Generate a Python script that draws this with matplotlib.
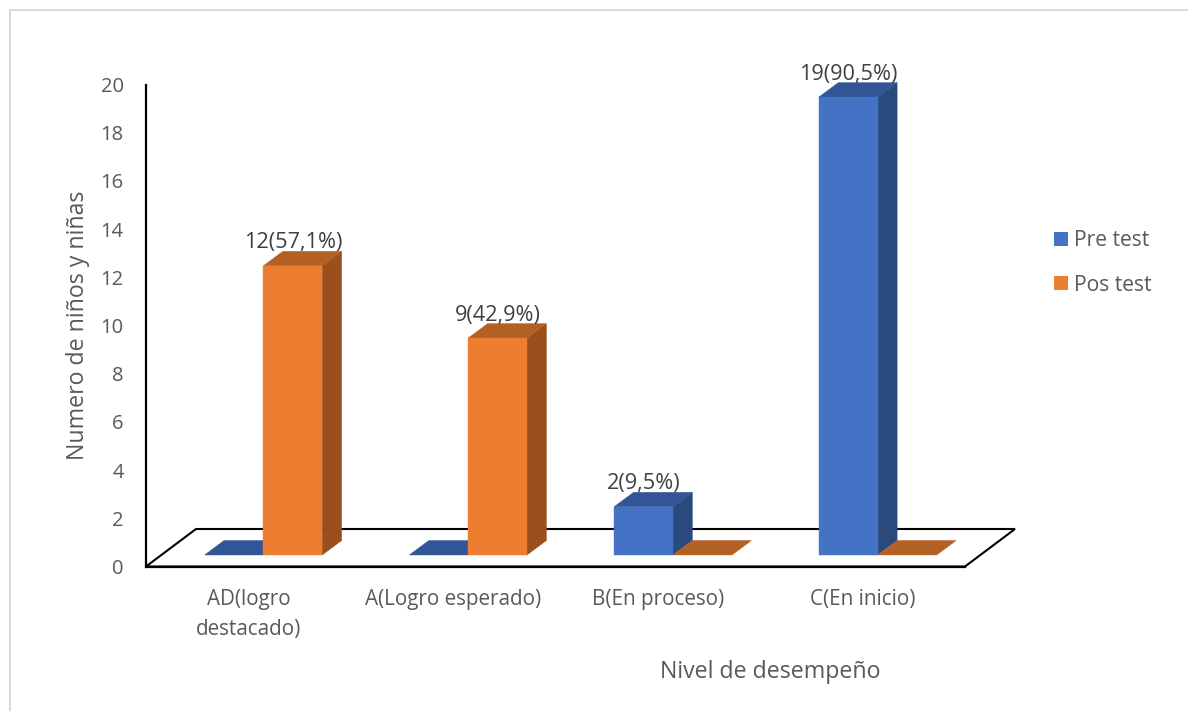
import matplotlib
matplotlib.use("Agg")
import matplotlib.pyplot as plt
from matplotlib.patches import Polygon, Patch
from matplotlib.lines import Line2D

categories = ["AD(logro\ndestacado)", "A(Logro esperado)", "B(En proceso)", "C(En inicio)"]
pre_test = [0, 0, 2, 19]
pos_test = [12, 9, 0, 0]
pre_labels = ["", "", "2(9,5%)", "19(90,5%)"]
pos_labels = ["12(57,1%)", "9(42,9%)", "", ""]
y_ticks = [0, 2, 4, 6, 8, 10, 12, 14, 16, 18, 20]

W, H = 1188, 711
plt.rcParams['font.family'] = ['Open Sans', 'DejaVu Sans']
fig = plt.figure(figsize=(W / 100, H / 100), dpi=100)
L, R, T, B = 146, 965, 84.5, 566.5
ax = fig.add_axes([L / W, (H - B) / H, (R - L) / W, (B - T) / H])
ax.set_xlim(0, len(categories))
ax.set_ylim(0, 20)
ax.patch.set_alpha(0)

ux = (R - L) / len(categories)   # pixels per x unit
uy = (B - T) / 20                # pixels per y unit

def off(x, y, dx, dy):
    """data point moved by a screen offset (pixels, up positive)"""
    return (x + dx / ux, y + dy / uy)

FLOOR_DX, FLOOR_DY = 50, 37.5
BAR_OX, BAR_OY = 15, 11.5
DEPTH_X, DEPTH_Y = 19.5, 14.5
BAR_W = 58.8 / ux

line = '#000000'
floor = Polygon([(0, 0), (4, 0), off(4, 0, FLOOR_DX, FLOOR_DY), off(0, 0, FLOOR_DX, FLOOR_DY)],
                closed=True, fc='white', ec=line, lw=1.5, clip_on=False, zorder=1, joinstyle='miter')
ax.add_patch(floor)

def bar3d(x0, v, front, top, side, z):
    x1 = x0 + BAR_W
    p = lambda x, y, d=0: off(x, y, BAR_OX + d * DEPTH_X, BAR_OY + d * DEPTH_Y)
    ax.add_patch(Polygon([p(x1, 0), p(x1, 0, 1), p(x1, v, 1), p(x1, v)], fc=side, ec=side, lw=0.3, clip_on=False, zorder=z))
    ax.add_patch(Polygon([p(x0, v), p(x1, v), p(x1, v, 1), p(x0, v, 1)], fc=top, ec=top, lw=0.3, clip_on=False, zorder=z))
    if v > 0:
        ax.add_patch(Polygon([p(x0, 0), p(x1, 0), p(x1, v), p(x0, v)], fc=front, ec=front, lw=0.3, clip_on=False, zorder=z + 0.1))

BLUE, BLUE_T, BLUE_S = '#4472C4', '#325597', '#2A4A7E'
ORANGE, ORANGE_T, ORANGE_S = '#ED7D31', '#B45F24', '#99501D'

for i in range(len(categories)):
    c = i + 0.5
    bar3d(c - BAR_W, pre_test[i], BLUE, BLUE_T, BLUE_S, 2 + i)
    bar3d(c, pos_test[i], ORANGE, ORANGE_T, ORANGE_S, 2.3 + i)
    for lab, v, xc in ((pre_labels[i], pre_test[i], c - BAR_W / 2), (pos_labels[i], pos_test[i], c + BAR_W / 2)):
        if lab:
            ax.annotate(lab, off(xc, v, BAR_OX, BAR_OY), xytext=(0, 23 * 72 / 100), textcoords='offset points',
                        ha='center', va='center', fontsize=15.6, color='#404040', zorder=20, annotation_clip=False)

ax.set_xticks([i + 0.5 for i in range(len(categories))])
ax.set_xticklabels(categories, fontsize=14.9, color='#595959', linespacing=1.55)
ax.set_yticks(y_ticks)
ax.set_yticklabels([str(v) for v in y_ticks], fontsize=14.5, color='#595959')
ax.tick_params(axis='x', length=0, pad=16)
ax.tick_params(axis='y', length=0, pad=16)

for s in ('top', 'right'):
    ax.spines[s].set_visible(False)
for s in ('left', 'bottom'):
    ax.spines[s].set_color(line)
    ax.spines[s].set_linewidth(1.6)
    ax.spines[s].set_zorder(1.5)

ax.set_ylabel("Numero de niños y niñas", fontsize=16.7, color='#595959')
ax.yaxis.set_label_coords((78 - L) / (R - L), (B - 325) / (B - T))
ax.set_xlabel("Nivel de desempeño", fontsize=16.7, color='#595959')
ax.xaxis.set_label_coords((770 - L) / (R - L), (B - 672) / (B - T))
ax.xaxis.label.set_verticalalignment('center')
ax.yaxis.label.set_verticalalignment('center')

handles = [Patch(fc=BLUE, ec='none', label="Pre test"), Patch(fc=ORANGE, ec='none', label="Pos test")]
leg = fig.legend(handles=handles, frameon=False, fontsize=15.2, loc='center left',
                 bbox_to_anchor=(1054 / W, 1 - 263 / H), borderpad=0, borderaxespad=0,
                 handlelength=0.66, handleheight=0.66, handletextpad=0.3, labelspacing=1.1, labelcolor='#595959')

# chart-area border
border = '#D9D9D9'
fig.add_artist(Line2D([10 / W, 10 / W], [0, 1 - 10 / H], color=border, lw=1.4))
fig.add_artist(Line2D([10 / W, 1], [1 - 10 / H, 1 - 10 / H], color=border, lw=1.4))

fig.savefig("out.png", dpi=100)
